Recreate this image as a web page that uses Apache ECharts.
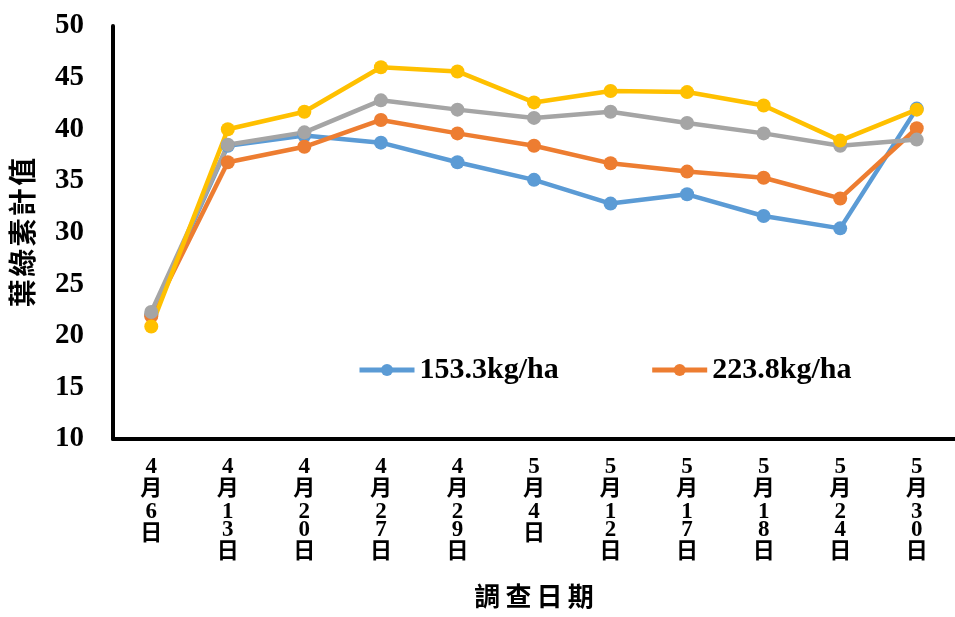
<!DOCTYPE html>
<html>
<head>
<meta charset="utf-8">
<script src="https://cdn.jsdelivr.net/npm/echarts@6/dist/echarts.min.js"></script>
<style>
  html, body { margin: 0; padding: 0; background: #fff; }
  #chart { width: 955px; height: 617px; }
</style>
</head>
<body>
<div id="chart"></div>
<script>
// Survey dates
const dates = ['4月6日', '4月13日', '4月20日', '4月27日', '4月29日', '5月4日', '5月12日', '5月17日', '5月18日', '5月24日', '5月30日'];

// Chlorophyll meter readings per nitrogen rate
const n153 = [22.0, 38.4, 39.4, 38.7, 36.8, 35.1, 32.8, 33.7, 31.6, 30.4, 42.0];
const n224 = [21.9, 36.8, 38.3, 40.9, 39.6, 38.4, 36.7, 35.9, 35.3, 33.3, 40.1];
const n3 = [22.3, 38.5, 39.7, 42.8, 41.9, 41.1, 41.7, 40.6, 39.6, 38.4, 39.0];
const n4 = [20.9, 40.0, 41.7, 46.0, 45.6, 42.6, 43.7, 43.6, 42.3, 38.9, 41.9];

// Y axis range
const yMin = 10, yMax = 50, yStep = 5;

const serif = '"Liberation Serif", "Noto Sans CJK TC", serif';

function lineSeries(name, data, color) {
  return {
    name: name,
    type: 'line',
    data: data,
    symbol: 'circle',
    symbolSize: 14,
    lineStyle: { color: color, width: 4.5 },
    itemStyle: { color: color },
    emphasis: { disabled: true },
    animation: false
  };
}

// Stack a date label vertically: digits on short lines, CJK on tall ones
function verticalLabel(v) {
  return v.split('').map(ch => (/[0-9]/.test(ch) ? '{d|' + ch + '}' : '{c|' + ch + '}')).join('\n');
}

const chart = echarts.init(document.getElementById('chart'), null, { renderer: 'canvas' });
chart.setOption({
  backgroundColor: '#ffffff',
  animation: false,
  grid: { left: 113, top: 26, height: 414, width: 851, containLabel: false },
  legend: {
    data: ['153.3kg/ha', '223.8kg/ha'],
    left: 352,
    top: 350,
    itemWidth: 55,
    itemHeight: 15,
    itemGap: 91,
    lineStyle: { width: 5 },
    textStyle: { fontFamily: serif, fontWeight: 'bold', fontSize: 30, color: '#000' }
  },
  xAxis: {
    type: 'category',
    data: dates,
    boundaryGap: true,
    axisLine: { lineStyle: { color: '#000', width: 4 } },
    axisTick: { show: false },
    axisLabel: {
      interval: 0,
      margin: 19,
      color: '#000',
      verticalAlign: 'top',
      formatter: verticalLabel,
      rich: {
        d: { fontFamily: serif, fontWeight: 'bold', fontSize: 23, lineHeight: 18, color: '#000' },
        c: { fontFamily: serif, fontWeight: 'bold', fontSize: 22, lineHeight: 27, color: '#000' }
      }
    },
    name: '調\u2009查\u2009日\u2009期',
    nameLocation: 'middle',
    nameGap: 147,
    nameTextStyle: { fontFamily: serif, fontWeight: 'bold', fontSize: 26, color: '#000' }
  },
  yAxis: {
    type: 'value',
    min: yMin,
    max: yMax,
    interval: yStep,
    splitLine: { show: false },
    axisLine: { show: true, lineStyle: { color: '#000', width: 4 } },
    axisTick: { show: false },
    axisLabel: {
      margin: 29,
      fontFamily: serif,
      fontWeight: 'bold',
      fontSize: 29,
      color: '#000'
    },
    name: '葉\u200a綠\u200a素\u200a計\u200a值',
    nameLocation: 'middle',
    nameRotate: 90,
    nameGap: 73,
    nameTextStyle: { fontFamily: serif, fontWeight: 'bold', fontSize: 28, color: '#000' }
  },
  series: [
    lineSeries('153.3kg/ha', n153, '#5B9BD5'),
    lineSeries('223.8kg/ha', n224, '#ED7D31'),
    lineSeries('處理三', n3, '#A5A5A5'),
    lineSeries('處理四', n4, '#FFC000')
  ]
});
</script>
</body>
</html>
